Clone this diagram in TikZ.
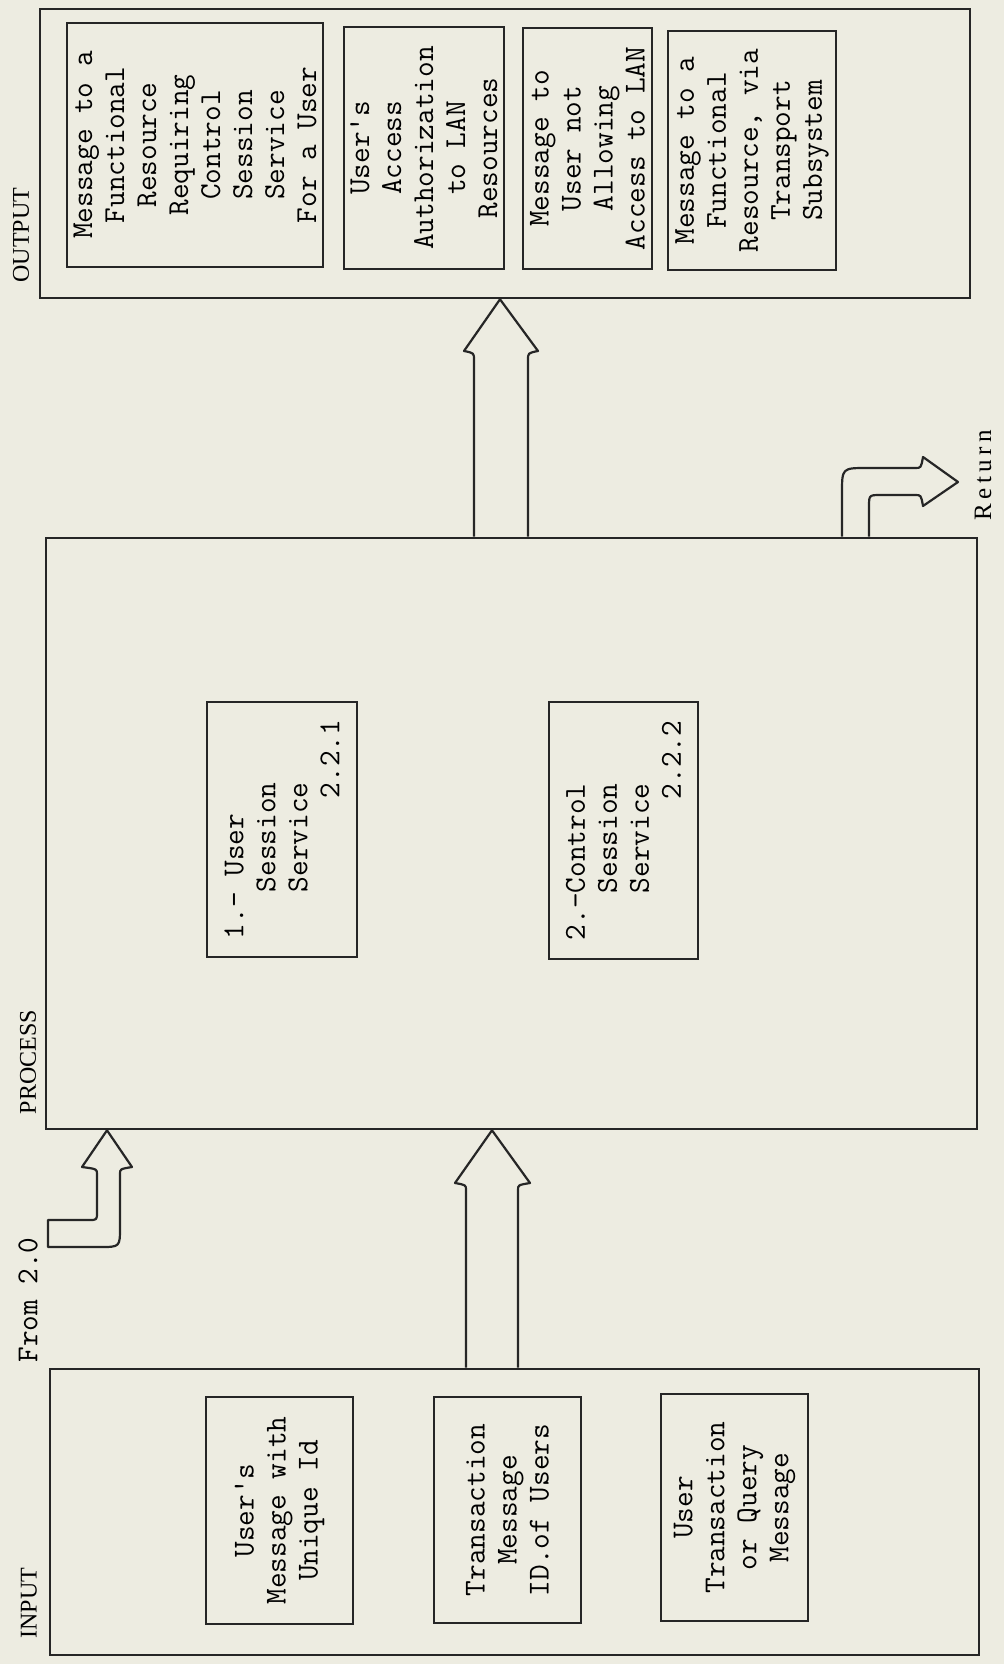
\documentclass[tikz,border=0pt]{standalone}
\usepackage{fontspec}
\setmainfont{Liberation Serif}
\newfontfamily\spacedserif{Liberation Serif}[LetterSpace=18]
\usetikzlibrary{calc}
\definecolor{ink}{HTML}{262626}
\definecolor{paper}{HTML}{EDECE1}
\tikzset{frame/.style={draw=ink,line width=1.3pt,inner sep=0pt},box/.style={draw=ink,line width=1.2pt,rotate=90,inner sep=0pt,align=center,font=\fontsize{15.2pt}{16pt}\selectfont\ttfamily},leftbox/.style={box,align=left},tag/.style={rotate=90,inner sep=0pt,font=\fontsize{12pt}{14pt}\selectfont},hollow/.style={draw=ink,line width=1.1pt,line join=round}}

\begin{document}
\begin{tikzpicture}[x=0.5pt,y=-0.5pt]
\fill[paper] (0,0) rectangle (1004,1664);
\useasboundingbox (0,0) rectangle (1004,1664);
% the three stages
\node[frame,minimum width=465pt,minimum height=144.5pt] (output) at (505,153.5) {};
\node[frame,minimum width=465.5pt,minimum height=295.5pt] (process) at (511.5,833.5) {};
\node[frame,minimum width=464.5pt,minimum height=143pt] (input) at (514.5,1512) {};
\node[tag] (outtag) at (21,235) {OUTPUT};
\node[tag] (proctag) at (28,1062) {PROCESS};
\node[tag] (intag) at (29,1603) {INPUT};
% output messages
\node[box,minimum width=122pt,minimum height=128pt] (fwd) at (195,145) {Message to a\\Functional\\Resource\\Requiring\\Control\\Session\\Service\\For a User};
\node[box,minimum width=121pt,minimum height=80pt] (auth) at (424,148) {User's\\Access\\Authorization\\to LAN\\Resources};
\node[box,minimum width=120.5pt,minimum height=64.5pt] (deny) at (587.5,148.5) {Message to\\User not\\Allowing\\Access to LAN};
\node[box,minimum width=119.5pt,minimum height=84pt] (trans) at (752,150.5) {Message to a\\Functional\\Resource, via\\Transport\\Subsystem};
% session services
\node[leftbox,minimum width=127.5pt,minimum height=75pt] (usess) at (282,829.5) {1.- User\\\phantom{xxx}Session\\\phantom{xxx}Service\\\phantom{xxxxxxxxx}2.2.1};
\node[leftbox,minimum width=128.5pt,minimum height=74.5pt] (csess) at (623.5,830.5) {2.-Control\\\phantom{xxx}Session\\\phantom{xxx}Service\\\phantom{xxxxxxxxx}2.2.2};
% input messages
\node[box,minimum width=113.5pt,minimum height=73.5pt] (uid) at (279.5,1510.5) {User's\\Message with\\Unique Id};
\node[box,minimum width=113pt,minimum height=73.5pt] (tid) at (507.5,1510) {Transaction\\Message\\ID.of Users};
\node[box,minimum width=113.5pt,minimum height=73.5pt] (query) at (734.5,1507.5) {User\\Transaction\\or Query\\Message};
% block arrows
\draw[hollow] (474,0 |- process.north) -- (474,360) .. controls (474,353) .. (464,351) -- (500,0 |- output.south) -- (538,351) .. controls (528,353) .. (528,360) -- (528,0 |- process.north);
\draw[hollow] (466,0 |- input.north) -- (466,1190) .. controls (466,1185) .. (455,1183) -- (492,0 |- process.south) -- (530,1183) .. controls (518,1185) .. (518,1190) -- (518,0 |- input.north);
\draw[hollow] (48,1220) -- (89,1220) .. controls (97,1220) .. (97,1212) -- (97,1174) .. controls (97,1169) .. (82,1167) -- (107,0 |- process.south) -- (132,1167) .. controls (120,1169) .. (120,1174) -- (120,1227) .. controls (120,1247) .. (100,1247) -- (48,1247) -- cycle;
\node[tag,font=\fontsize{15.2pt}{16pt}\selectfont\ttfamily] (fromtag) at (28,1300) {From 2.0};
\draw[hollow] (842,0 |- process.north) -- (842,493) .. controls (842,468) .. (867,468) -- (915,468) .. controls (921,468) .. (923,457) -- (958,482) -- (923,506) .. controls (921,495) .. (915,495) -- (881,495) .. controls (869,495) .. (869,507) -- (869,0 |- process.north);
\node[tag,font=\fontsize{12.5pt}{14pt}\spacedserif] (rettag) at (983,475) {Return};
\end{tikzpicture}
\end{document}
